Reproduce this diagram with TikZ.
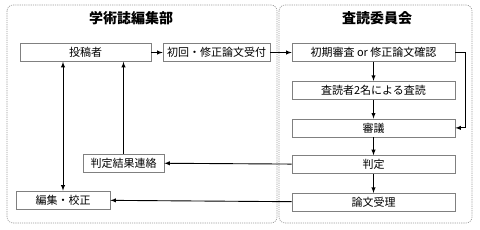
\documentclass[tikz,border=0pt]{standalone}
\usepackage{fontspec}
\setmainfont{Noto Sans CJK JP}
\usepackage{tikz}
\usetikzlibrary{positioning}

\tikzset{
  panel/.style={draw=gray!80, dash pattern=on 1.2pt off 1pt, line width=0.6pt, rounded corners=6pt},
  title/.style={font=\fontsize{14}{16}\selectfont\bfseries},
  box/.style={draw=gray, line width=0.7pt, fill=white, minimum height=18pt, inner sep=0pt,
              font=\fontsize{11}{13}\selectfont},
  flow/.style={->, line width=0.9pt}
}

\begin{document}
\begin{tikzpicture}[x=1pt, y=-1pt, >=latex]
\useasboundingbox (0,0) rectangle (480,230);

% panels
\draw[panel] (7,5) rectangle (277,223);
\draw[panel] (279,5) rectangle (472,223);
\node[title] (T1) at (131,18) {学術誌編集部};
\node[title] (T2) at (377,18) {査読委員会};

% left side
\node[box, minimum width=131pt] (toukou) at (85.5,52.5) {投稿者};
\node[box, minimum width=107pt] (uketsuke) at (216.5,52.5) {初回・修正論文受付};
\node[box, minimum width=81pt] (renraku) at (123.5,163) {判定結果連絡};
\node[box, minimum width=94pt] (henshu) at (63,200) {編集・校正};

% right side
\node[box, minimum width=163pt] (shoki) at (373.5,52.5) {初期審査 or 修正論文確認};
\node[box, minimum width=163pt, below=19pt of shoki] (sadoku) {査読者2名による査読};
\node[box, minimum width=163pt, below=19pt of sadoku] (shingi) {審議};
\node[box, minimum width=163pt, below=18pt of shingi] (hantei) {判定};
\node[box, minimum width=163pt, below=19pt of hantei] (juri) {論文受理};

\draw[flow] (toukou) -- (uketsuke);
\draw[flow] (uketsuke) -- (shoki);
\draw[flow] (shoki) -- (sadoku);
\draw[flow] (sadoku) -- (shingi);
\draw[flow] (shingi) -- (hantei);
\draw[flow] (hantei) -- (juri);
\draw[flow] (shoki.east) -- ([xshift=10pt]shoki.east) |- (shingi.east);
\draw[flow] (hantei) -- (renraku);
\draw[flow] (juri) -- (henshu);
\draw[flow] (renraku.north) -- (renraku.north |- toukou.south);
\draw[flow, <->] (henshu.north) -- (henshu.north |- toukou.south);
\end{tikzpicture}
\end{document}
